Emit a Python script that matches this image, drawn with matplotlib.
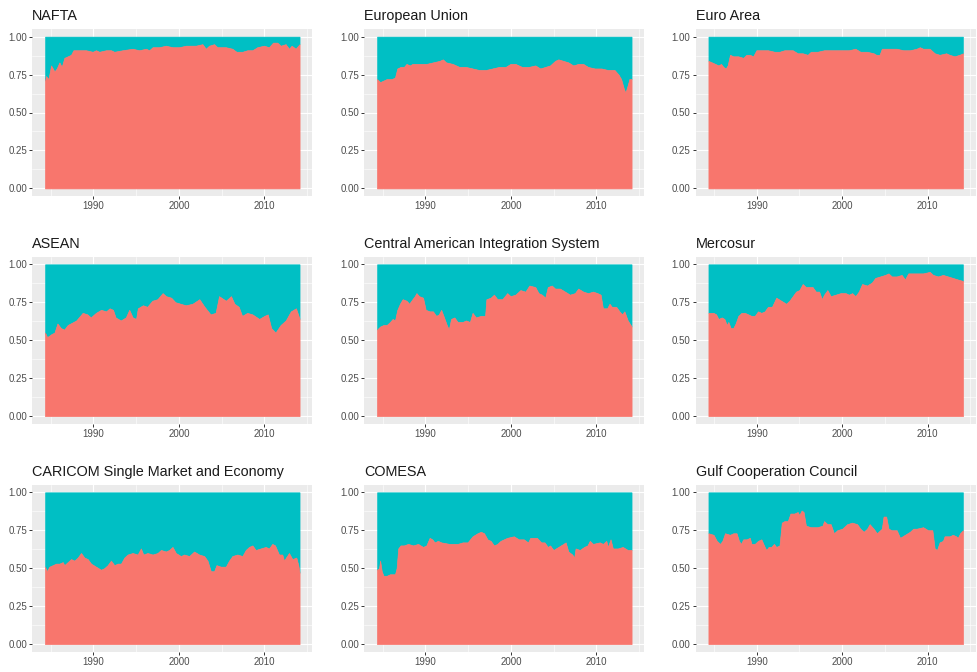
import matplotlib
matplotlib.use("Agg")
from matplotlib import pyplot as plt
from matplotlib.ticker import FixedLocator

# share of the red component, per trade bloc, read over time
nafta_year = [1984.35, 1984.47, 1984.75, 1985.06, 1985.45, 1985.72, 1986.03, 1986.30, 1986.61, 1987.0,
              1987.39, 1987.67, 1988.37, 1989.14, 1989.92, 1990.31, 1990.70, 1991.48, 1992.06, 1992.45,
              1993.42, 1994.59, 1995.37, 1996.15, 1996.54, 1996.93, 1997.70, 1998.48, 1999.26, 2000.04,
              2000.82, 2001.98, 2002.76, 2003.15, 2003.54, 2004.12, 2004.51, 2005.49, 2006.26, 2006.73,
              2007.43, 2008.02, 2008.60, 2009.18, 2009.96, 2010.54, 2011.01, 2011.52, 2011.91, 2012.49,
              2012.88, 2013.19, 2013.66, 2014.12]
nafta_share = [0.71, 0.74, 0.72, 0.81, 0.77, 0.79, 0.83, 0.80, 0.86, 0.87,
               0.88, 0.91, 0.91, 0.91, 0.90, 0.91, 0.90, 0.91, 0.91, 0.90,
               0.91, 0.92, 0.91, 0.92, 0.91, 0.93, 0.93, 0.94, 0.93, 0.93,
               0.94, 0.94, 0.95, 0.92, 0.94, 0.95, 0.93, 0.93, 0.92, 0.90,
               0.90, 0.91, 0.91, 0.93, 0.94, 0.93, 0.96, 0.96, 0.94, 0.95,
               0.92, 0.94, 0.92, 0.95]

eu_year = [1984.35, 1984.71, 1985.10, 1985.48, 1986.06, 1986.45, 1986.72, 1987.10, 1987.49, 1987.80,
           1988.19, 1988.49, 1989.15, 1990.12, 1990.89, 1991.66, 1992.05, 1992.43, 1993.20, 1993.98,
           1994.75, 1995.52, 1996.29, 1997.07, 1997.84, 1998.61, 1999.38, 1999.96, 2000.54, 2001.31,
           2002.08, 2002.86, 2003.44, 2004.02, 2004.59, 2005.17, 2005.56, 2006.14, 2006.72, 2007.30,
           2007.88, 2008.46, 2009.03, 2009.81, 2010.58, 2011.35, 2012.12, 2012.59, 2012.90, 2013.20,
           2013.40, 2013.67, 2013.86, 2014.12]
eu_share = [0.72, 0.70, 0.71, 0.72, 0.72, 0.73, 0.79, 0.80, 0.80, 0.82,
            0.81, 0.82, 0.82, 0.82, 0.83, 0.84, 0.85, 0.83, 0.82, 0.80,
            0.80, 0.79, 0.78, 0.78, 0.79, 0.80, 0.80, 0.82, 0.82, 0.80,
            0.80, 0.81, 0.79, 0.80, 0.81, 0.84, 0.85, 0.84, 0.83, 0.81,
            0.82, 0.82, 0.80, 0.79, 0.79, 0.78, 0.78, 0.75, 0.72, 0.66,
            0.63, 0.68, 0.72, 0.72]

euro_year = [1984.35, 1984.75, 1985.14, 1985.52, 1985.83, 1986.10, 1986.37, 1986.60, 1986.87, 1987.26,
             1987.84, 1988.42, 1988.80, 1989.19, 1989.58, 1989.96, 1990.54, 1991.31, 1992.08, 1992.66,
             1993.24, 1993.63, 1994.21, 1994.79, 1995.37, 1995.95, 1996.33, 1997.10, 1997.88, 1998.84,
             2000.0, 2000.77, 2001.54, 2002.12, 2002.90, 2003.67, 2003.98, 2004.36, 2004.63, 2005.60,
             2006.37, 2007.14, 2007.92, 2008.69, 2009.07, 2009.46, 2010.23, 2010.81, 2011.39, 2012.16,
             2012.55, 2013.13, 2013.71, 2014.12]
euro_share = [0.84, 0.83, 0.82, 0.81, 0.82, 0.80, 0.79, 0.81, 0.88, 0.87,
              0.87, 0.86, 0.88, 0.88, 0.87, 0.91, 0.91, 0.91, 0.90, 0.90,
              0.91, 0.91, 0.91, 0.89, 0.89, 0.88, 0.90, 0.90, 0.91, 0.91,
              0.91, 0.91, 0.92, 0.90, 0.90, 0.89, 0.88, 0.88, 0.92, 0.92,
              0.92, 0.91, 0.91, 0.92, 0.93, 0.92, 0.92, 0.89, 0.88, 0.89,
              0.88, 0.87, 0.88, 0.89]

asean_year = [1984.35, 1984.6, 1985.1, 1985.45, 1985.8, 1986.2, 1986.6, 1987.0, 1988.0, 1988.75,
              1989.3, 1989.7, 1990.3, 1990.9, 1991.5, 1991.9, 1992.3, 1992.6, 1993.2, 1993.8,
              1994.2, 1994.6, 1995.0, 1995.2, 1995.8, 1996.3, 1996.9, 1997.5, 1998.1, 1998.5,
              1999.1, 1999.6, 2000.2, 2000.8, 2001.6, 2002.4, 2003.0, 2003.7, 2004.3, 2004.7,
              2005.5, 2006.1, 2006.5, 2007.0, 2007.4, 2008.0, 2008.6, 2009.4, 2010.0, 2010.4,
              2010.8, 2011.3, 2011.9, 2012.5, 2013.1, 2013.7, 2014.12]
asean_share = [0.55, 0.52, 0.54, 0.55, 0.61, 0.58, 0.57, 0.60, 0.63, 0.68,
               0.67, 0.65, 0.68, 0.70, 0.69, 0.71, 0.70, 0.65, 0.63, 0.65,
               0.70, 0.65, 0.64, 0.71, 0.73, 0.72, 0.76, 0.77, 0.81, 0.79,
               0.78, 0.75, 0.74, 0.73, 0.74, 0.77, 0.72, 0.67, 0.68, 0.79,
               0.76, 0.79, 0.74, 0.72, 0.66, 0.68, 0.67, 0.64, 0.66, 0.67,
               0.58, 0.55, 0.60, 0.63, 0.69, 0.71, 0.64]

sica_year = [1984.35, 1984.71, 1985.10, 1985.48, 1985.87, 1986.18, 1986.45, 1986.72, 1987.03, 1987.34,
             1987.80, 1988.11, 1988.49, 1988.76, 1988.96, 1989.27, 1989.73, 1990.04, 1990.50, 1990.89,
             1991.27, 1991.58, 1991.85, 1992.12, 1992.51, 1992.74, 1993.01, 1993.40, 1993.78, 1994.36,
             1994.75, 1995.21, 1995.52, 1995.91, 1996.49, 1996.99, 1997.14, 1997.64, 1998.03, 1998.42,
             1999.0, 1999.58, 1999.96, 2000.54, 2001.12, 2001.70, 2002.16, 2002.86, 2003.24, 2003.63,
             2004.02, 2004.32, 2004.79, 2005.17, 2005.75, 2006.33, 2006.91, 2007.49, 2007.88, 2008.46,
             2009.03, 2009.61, 2010.12, 2010.50, 2010.77, 2011.27, 2011.54, 2011.81, 2012.32, 2012.70,
             2013.01, 2013.28, 2013.67, 2014.12]
sica_share = [0.57, 0.59, 0.60, 0.60, 0.62, 0.64, 0.63, 0.70, 0.74, 0.77,
              0.76, 0.74, 0.77, 0.79, 0.81, 0.79, 0.78, 0.70, 0.69, 0.69,
              0.66, 0.67, 0.70, 0.66, 0.60, 0.57, 0.64, 0.65, 0.62, 0.62,
              0.63, 0.62, 0.68, 0.65, 0.66, 0.66, 0.77, 0.78, 0.80, 0.77,
              0.77, 0.81, 0.79, 0.80, 0.83, 0.82, 0.86, 0.85, 0.81, 0.80,
              0.78, 0.85, 0.86, 0.84, 0.84, 0.82, 0.80, 0.81, 0.84, 0.82,
              0.81, 0.82, 0.81, 0.80, 0.71, 0.71, 0.74, 0.72, 0.72, 0.69,
              0.67, 0.69, 0.63, 0.59]

mercosur_year = [1984.35, 1984.94, 1985.25, 1985.52, 1985.91, 1986.22, 1986.49, 1986.68, 1986.95, 1987.26,
                 1987.53, 1987.84, 1988.22, 1988.61, 1989.0, 1989.38, 1989.77, 1990.15, 1990.54, 1990.93,
                 1991.31, 1991.78, 1992.28, 1992.86, 1993.44, 1993.82, 1994.21, 1994.59, 1994.98, 1995.37,
                 1995.75, 1996.14, 1996.53, 1996.91, 1997.30, 1997.61, 1997.88, 1998.26, 1998.65, 1999.23,
                 1999.81, 2000.39, 2000.77, 2001.16, 2001.54, 2001.93, 2002.32, 2002.90, 2003.47, 2003.86,
                 2004.44, 2005.02, 2005.41, 2005.79, 2006.37, 2006.95, 2007.34, 2007.72, 2008.69, 2009.46,
                 2010.23, 2010.62, 2011.20, 2011.78, 2012.36, 2012.93, 2013.51, 2014.12]
mercosur_share = [0.68, 0.68, 0.67, 0.64, 0.65, 0.64, 0.60, 0.62, 0.58, 0.58,
                  0.61, 0.66, 0.68, 0.68, 0.67, 0.66, 0.66, 0.69, 0.68, 0.69,
                  0.72, 0.72, 0.78, 0.76, 0.74, 0.76, 0.79, 0.82, 0.83, 0.87,
                  0.85, 0.85, 0.85, 0.82, 0.82, 0.77, 0.80, 0.83, 0.79, 0.80,
                  0.81, 0.81, 0.80, 0.81, 0.79, 0.82, 0.87, 0.86, 0.88, 0.91,
                  0.92, 0.93, 0.94, 0.92, 0.92, 0.93, 0.90, 0.94, 0.94, 0.94,
                  0.95, 0.93, 0.92, 0.93, 0.92, 0.91, 0.90, 0.89]

caricom_year = [1984.35, 1984.55, 1984.86, 1985.25, 1985.64, 1986.03, 1986.42, 1986.61, 1987.0, 1987.39,
                1987.78, 1988.17, 1988.56, 1988.95, 1989.34, 1989.73, 1990.31, 1990.89, 1991.28, 1991.67,
                1992.06, 1992.45, 1992.84, 1993.23, 1993.62, 1994.01, 1994.59, 1995.18, 1995.56, 1995.84,
                1996.34, 1996.93, 1997.51, 1997.90, 1998.48, 1998.87, 1999.26, 1999.65, 2000.23, 2000.62,
                2001.21, 2001.79, 2002.37, 2002.96, 2003.35, 2003.74, 2004.12, 2004.40, 2004.90, 2005.49,
                2005.88, 2006.26, 2006.85, 2007.43, 2007.82, 2008.21, 2008.60, 2008.99, 2009.57, 2010.16,
                2010.54, 2010.93, 2011.25, 2011.71, 2012.10, 2012.30, 2012.88, 2013.27, 2013.74, 2013.97,
                2014.12]
caricom_share = [0.51, 0.48, 0.51, 0.52, 0.53, 0.53, 0.54, 0.52, 0.54, 0.56,
                 0.55, 0.57, 0.60, 0.57, 0.56, 0.53, 0.51, 0.49, 0.50, 0.52,
                 0.55, 0.52, 0.53, 0.53, 0.57, 0.59, 0.60, 0.59, 0.63, 0.59,
                 0.60, 0.59, 0.60, 0.62, 0.61, 0.62, 0.64, 0.60, 0.58, 0.59,
                 0.58, 0.61, 0.59, 0.58, 0.55, 0.48, 0.48, 0.52, 0.51, 0.51,
                 0.55, 0.58, 0.59, 0.58, 0.62, 0.64, 0.65, 0.62, 0.63, 0.64,
                 0.63, 0.66, 0.65, 0.59, 0.59, 0.55, 0.60, 0.56, 0.57, 0.52,
                 0.47]

comesa_year = [1984.35, 1984.59, 1984.71, 1984.90, 1985.10, 1985.48, 1985.87, 1986.18, 1986.45, 1986.64,
               1986.83, 1987.10, 1987.49, 1987.99, 1988.57, 1989.15, 1989.73, 1990.12, 1990.50, 1990.81,
               1991.08, 1991.47, 1991.85, 1992.82, 1993.78, 1994.36, 1994.94, 1995.52, 1996.10, 1996.49,
               1996.87, 1997.26, 1997.64, 1998.03, 1998.42, 1998.80, 1999.58, 2000.35, 2000.93, 2001.51,
               2002.01, 2002.28, 2003.05, 2003.55, 2003.94, 2004.32, 2004.59, 2004.98, 2005.56, 2006.14,
               2006.41, 2006.72, 2007.18, 2007.41, 2007.57, 2008.07, 2008.57, 2008.96, 2009.23, 2009.61,
               2010.39, 2010.77, 2011.16, 2011.35, 2011.66, 2011.93, 2012.51, 2013.09, 2013.67, 2014.12]
comesa_share = [0.49, 0.50, 0.55, 0.48, 0.45, 0.45, 0.46, 0.46, 0.46, 0.50,
                0.63, 0.65, 0.65, 0.66, 0.65, 0.66, 0.64, 0.65, 0.70, 0.69,
                0.67, 0.68, 0.67, 0.66, 0.66, 0.67, 0.67, 0.71, 0.73, 0.74,
                0.73, 0.69, 0.68, 0.65, 0.66, 0.68, 0.70, 0.71, 0.69, 0.69,
                0.67, 0.70, 0.70, 0.67, 0.67, 0.64, 0.65, 0.62, 0.64, 0.66,
                0.67, 0.61, 0.59, 0.57, 0.63, 0.62, 0.64, 0.65, 0.68, 0.66,
                0.67, 0.66, 0.68, 0.64, 0.69, 0.63, 0.63, 0.64, 0.62, 0.62]

gcc_year = [1984.35, 1984.94, 1985.33, 1985.71, 1985.98, 1986.29, 1986.87, 1987.26, 1987.64, 1987.92,
            1988.15, 1988.42, 1988.80, 1989.19, 1989.38, 1989.77, 1990.15, 1990.54, 1990.93, 1991.12,
            1991.39, 1991.70, 1992.01, 1992.28, 1992.66, 1992.93, 1993.24, 1993.63, 1993.94, 1994.40,
            1994.79, 1994.98, 1995.25, 1995.48, 1995.75, 1996.33, 1997.10, 1997.68, 1997.88, 1998.26,
            1998.65, 1999.03, 1999.42, 2000.0, 2000.58, 2001.16, 2001.74, 2002.12, 2002.51, 2002.90,
            2003.20, 2003.67, 2004.05, 2004.63, 2004.83, 2005.14, 2005.41, 2005.79, 2006.37, 2006.76,
            2007.34, 2007.92, 2008.30, 2008.69, 2009.46, 2010.04, 2010.54, 2010.81, 2011.08, 2011.39,
            2011.78, 2011.97, 2012.55, 2012.93, 2013.32, 2013.51, 2013.78, 2014.12]
gcc_share = [0.73, 0.72, 0.68, 0.66, 0.68, 0.73, 0.72, 0.73, 0.73, 0.68,
             0.66, 0.69, 0.69, 0.70, 0.66, 0.66, 0.68, 0.69, 0.64, 0.62,
             0.64, 0.64, 0.66, 0.64, 0.65, 0.80, 0.81, 0.81, 0.86, 0.86,
             0.87, 0.85, 0.88, 0.87, 0.78, 0.77, 0.77, 0.78, 0.81, 0.79,
             0.79, 0.73, 0.75, 0.76, 0.79, 0.80, 0.79, 0.76, 0.74, 0.76,
             0.79, 0.76, 0.73, 0.76, 0.84, 0.84, 0.76, 0.75, 0.75, 0.70,
             0.72, 0.74, 0.76, 0.76, 0.77, 0.75, 0.75, 0.63, 0.62, 0.67,
             0.68, 0.71, 0.71, 0.72, 0.71, 0.70, 0.73, 0.75]

titles = ['NAFTA', 'European Union', 'Euro Area',
          'ASEAN', 'Central American Integration System', 'Mercosur',
          'CARICOM Single Market and Economy', 'COMESA', 'Gulf Cooperation Council']
series = [(nafta_year, nafta_share), (eu_year, eu_share), (euro_year, euro_share),
          (asean_year, asean_share), (sica_year, sica_share), (mercosur_year, mercosur_share),
          (caricom_year, caricom_share), (comesa_year, comesa_share), (gcc_year, gcc_share)]

red = '#F8766D'
teal = '#00BFC4'
W, H = 977, 672

fig = plt.figure(figsize=(W / 100, H / 100), dpi=100)
fig.patch.set_facecolor('white')

col_left = [32.3, 364.3, 695.7]
row_top = [29.0, 256.7, 484.7]
pw, ph = 280.0, 167.0

for i, (title, (yr, sh)) in enumerate(zip(titles, series)):
    r, c = divmod(i, 3)
    ax = fig.add_axes([col_left[c] / W, 1 - (row_top[r] + ph) / H, pw / W, ph / H])
    ax.set_facecolor('#EBEBEB')
    ax.set_axisbelow(True)

    # stacked to 1: teal share on top, red share below
    ax.fill_between(yr, sh, 1, facecolor=teal, edgecolor=teal, lw=0.4, zorder=2)
    ax.fill_between(yr, 0, sh, facecolor=red, edgecolor=red, lw=0.5, zorder=3)

    lo, hi = yr[0], yr[-1]
    pad = (hi - lo) * 0.05
    ax.set_xlim(lo - pad, hi + pad)
    ax.set_ylim(-0.05, 1.05)

    ax.xaxis.set_major_locator(FixedLocator([1990, 2000, 2010]))
    ax.xaxis.set_minor_locator(FixedLocator([1985, 1995, 2005, 2015]))
    ax.yaxis.set_major_locator(FixedLocator([0, 0.25, 0.5, 0.75, 1.0]))
    ax.yaxis.set_minor_locator(FixedLocator([0.125, 0.375, 0.625, 0.875]))
    ax.set_yticklabels(['0.00', '0.25', '0.50', '0.75', '1.00'])

    ax.grid(which='major', color='white', lw=0.8)
    ax.grid(which='minor', color='white', lw=0.4)
    for s in ax.spines.values():
        s.set_visible(False)
    ax.tick_params(which='major', length=2.3, width=0.7, color='#333333',
                   labelcolor='#4D4D4D', labelsize=7.0, pad=1.5)
    ax.tick_params(which='minor', length=0)
    for lab in ax.get_xticklabels() + ax.get_yticklabels():
        lab.set_family('Liberation Sans')

    ax.text(0, 1 + 9 / ph, title, transform=ax.transAxes, ha='left', va='baseline',
            fontsize=10.4, family='Liberation Sans', color='#1A1A1A')

fig.savefig('out.png', dpi=100, facecolor='white')
